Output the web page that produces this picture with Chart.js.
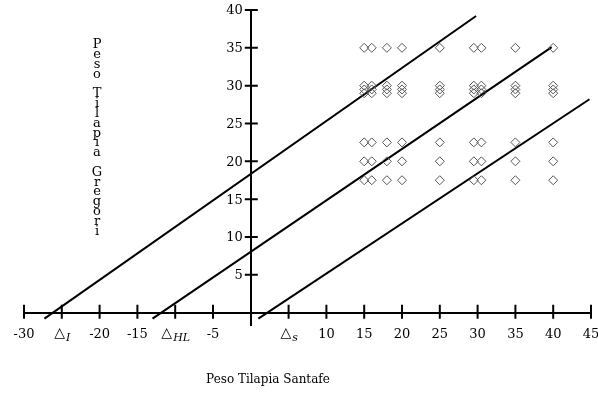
<!DOCTYPE html>
<html>
<head>
<meta charset="utf-8">
<script src="https://cdn.jsdelivr.net/npm/chart.js@4.4.1/dist/chart.umd.min.js"></script>
<style>
  html, body { margin: 0; padding: 0; background: #fff; }
  #wrap { width: 598px; height: 402px; position: relative; }
</style>
</head>
<body>
<div id="wrap"><canvas id="chart"></canvas></div>
<script>
// Values
const santafeWeights = [15, 16, 18, 20, 25, 29.5, 30.5, 35, 40];
const gregoriWeights = [17.5, 20, 22.5, 29, 29.5, 30, 35];

// Three parallel boundary lines: start and end points in data units
const lineI = [{x: -27.3, y: -0.8}, {x: 29.8, y: 39.2}];
const lineHL = [{x: -13.0, y: -0.8}, {x: 39.8, y: 35.1}];
const lineS = [{x: 1.0, y: -0.8}, {x: 44.8, y: 28.2}];

// Tick values and labels
const xTickValues = [-30, -25, -20, -15, -10, -5, 0, 5, 10, 15, 20, 25, 30, 35, 40, 45];
const xTickLabels = ['-30', '', '-20', '-15', '', '-5', '', '', '10', '15', '20', '25', '30', '35', '40', '45'];
const deltaTickValues = [-25, -10, 5];
const deltaTickSubs = ['I', 'HL', 's'];
const yTickValues = [5, 10, 15, 20, 25, 30, 35, 40];
const yTickLabels = ['5', '10', '15', '20', '25', '30', '35', '40'];

const xTitle = 'Peso Tilapia Santafe';
const yTitle = 'Peso Tilapia Gregori';

// Every santafe weight was paired with every gregori weight
const points = [];
santafeWeights.forEach(sx => {
  gregoriWeights.forEach(gy => points.push({x: sx, y: gy}));
});

const serif = '"DejaVu Serif", "Liberation Serif", serif';

// Crossing tick marks, y labels, delta labels and the two axis titles
const axisDecor = {
  id: 'axisDecor',
  afterDraw(chart) {
    const {ctx, scales: {x, y}} = chart;
    const x0 = x.getPixelForValue(0);
    const y0 = y.getPixelForValue(0);
    ctx.save();
    ctx.strokeStyle = '#000';
    ctx.lineWidth = 2;
    ctx.beginPath();
    xTickValues.forEach(v => {
      if (v === 0) return;
      const px = x.getPixelForValue(v);
      ctx.moveTo(px, y0 - 8);
      ctx.lineTo(px, y0 + 6);
    });
    yTickValues.forEach(v => {
      const py = y.getPixelForValue(v);
      ctx.moveTo(x0 - 6, py);
      ctx.lineTo(x0 + 7, py);
    });
    ctx.stroke();

    ctx.fillStyle = '#000';

    // y tick labels, left of the axis
    ctx.font = '13px ' + serif;
    ctx.textAlign = 'right';
    ctx.textBaseline = 'middle';
    yTickValues.forEach((v, i) => {
      ctx.fillText(yTickLabels[i], x0 - 8, y.getPixelForValue(v) + 1);
    });

    // delta labels with italic subscripts
    ctx.textBaseline = 'alphabetic';
    ctx.textAlign = 'left';
    deltaTickValues.forEach((v, i) => {
      ctx.font = '14px ' + serif;
      const triW = ctx.measureText('\u25B3').width;
      ctx.font = 'italic 11px ' + serif;
      const subW = ctx.measureText(deltaTickSubs[i]).width;
      const left = x.getPixelForValue(v) - (triW + subW) / 2;
      ctx.font = '14px ' + serif;
      ctx.fillText('\u25B3', left, y0 + 24);
      ctx.font = 'italic 11px ' + serif;
      ctx.fillText(deltaTickSubs[i], left + triW + 1, y0 + 28);
    });

    // x title
    ctx.font = '12px ' + serif;
    ctx.textAlign = 'center';
    ctx.textBaseline = 'middle';
    ctx.fillText(xTitle, 268, 380);

    // y title, one letter per line
    ctx.font = '13px ' + serif;
    let ty = 45;
    for (const ch of yTitle) {
      if (ch !== ' ') ctx.fillText(ch, 97, ty);
      ty += 9.8;
    }
    ctx.restore();
  }
};

const lineStyle = {
  type: 'line',
  borderColor: '#000',
  borderWidth: 2,
  pointRadius: 0,
  fill: false,
  showLine: true
};

new Chart(document.getElementById('chart'), {
  type: 'scatter',
  data: {
    datasets: [
      {
        label: 'pesos',
        data: points,
        pointStyle: 'rectRot',
        pointRadius: 4.5,
        pointBorderWidth: 1,
        pointBorderColor: '#555',
        pointBackgroundColor: 'rgba(0,0,0,0)'
      },
      Object.assign({label: 'I', data: lineI}, lineStyle),
      Object.assign({label: 'HL', data: lineHL}, lineStyle),
      Object.assign({label: 's', data: lineS}, lineStyle)
    ]
  },
  options: {
    responsive: true,
    maintainAspectRatio: false,
    animation: false,
    layout: {
      padding: {left: 24, right: 7, top: 10, bottom: 76.5}
    },
    plugins: {
      legend: {display: false},
      tooltip: {enabled: false}
    },
    scales: {
      x: {
        type: 'linear',
        position: {y: 0},
        min: -30,
        max: 45,
        afterFit: (scale) => {
          scale.height = 0;
          scale.paddingLeft = 0;
          scale.paddingRight = 0;
        },
        afterBuildTicks: (scale) => { scale.ticks = xTickValues.map(v => ({value: v})); },
        grid: {display: false},
        border: {display: true, color: '#000', width: 2},
        ticks: {
          padding: 6,
          color: '#000',
          font: {family: serif, size: 13},
          callback: (value) => xTickLabels[xTickValues.indexOf(value)]
        }
      },
      y: {
        type: 'linear',
        position: {x: 0},
        min: -1.7,
        max: 40,
        afterFit: (scale) => {
          scale.width = 0;
          scale.paddingTop = 0;
          scale.paddingBottom = 0;
        },
        afterBuildTicks: (scale) => { scale.ticks = yTickValues.map(v => ({value: v})); },
        grid: {display: false},
        border: {display: true, color: '#000', width: 2},
        ticks: {display: false}
      }
    }
  },
  plugins: [axisDecor]
});
</script>
</body>
</html>
